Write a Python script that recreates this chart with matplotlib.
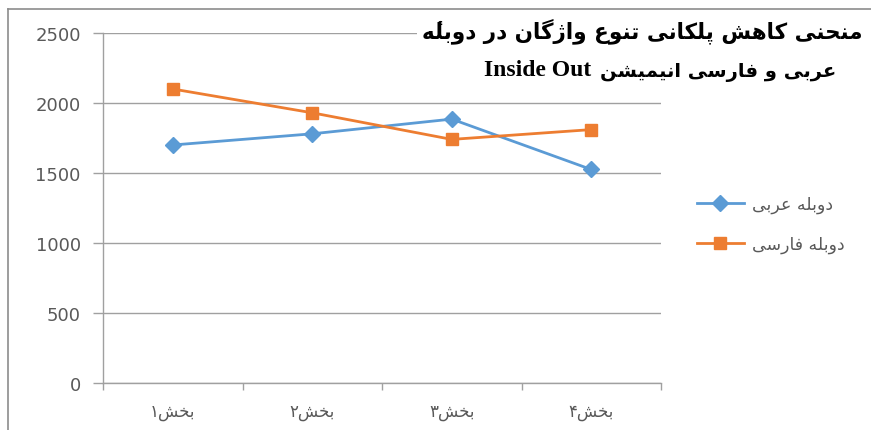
import matplotlib
matplotlib.use("Agg")
import matplotlib.pyplot as plt
from matplotlib.lines import Line2D

# ---------------- data ----------------
categories = ["بخش۱", "بخش۲", "بخش۳", "بخش۴"]
series_names = ["دوبله عربی", "دوبله فارسی"]
arabic_dub = [1700, 1780, 1885, 1525]
persian_dub = [2100, 1930, 1740, 1810]
y_ticks = [0, 500, 1000, 1500, 2000, 2500]
title_line1 = "منحنی کاهش پلکانی تنوع واژگان در دوبلهٔ"
title_line2_fa = "عربی و فارسی انیمیشن"
title_line2_en = "Inside Out"

# ---------------- minimal Arabic/Persian shaping ----------------
FORMS = {
    '\u0627': ('\uFE8D', '\uFE8E', None, None),
    '\u0628': ('\uFE8F', '\uFE90', '\uFE91', '\uFE92'),
    '\u067E': ('\uFB56', '\uFB57', '\uFB58', '\uFB59'),
    '\u062A': ('\uFE95', '\uFE96', '\uFE97', '\uFE98'),
    '\u062C': ('\uFE9D', '\uFE9E', '\uFE9F', '\uFEA0'),
    '\u062D': ('\uFEA1', '\uFEA2', '\uFEA3', '\uFEA4'),
    '\u062E': ('\uFEA5', '\uFEA6', '\uFEA7', '\uFEA8'),
    '\u062F': ('\uFEA9', '\uFEAA', None, None),
    '\u0631': ('\uFEAD', '\uFEAE', None, None),
    '\u0632': ('\uFEAF', '\uFEB0', None, None),
    '\u0698': ('\uFB8A', '\uFB8B', None, None),
    '\u0633': ('\uFEB1', '\uFEB2', '\uFEB3', '\uFEB4'),
    '\u0634': ('\uFEB5', '\uFEB6', '\uFEB7', '\uFEB8'),
    '\u0639': ('\uFEC9', '\uFECA', '\uFECB', '\uFECC'),
    '\u0641': ('\uFED1', '\uFED2', '\uFED3', '\uFED4'),
    '\u0642': ('\uFED5', '\uFED6', '\uFED7', '\uFED8'),
    '\u06A9': ('\uFB8E', '\uFB8F', '\uFB90', '\uFB91'),
    '\u06AF': ('\uFB92', '\uFB93', '\uFB94', '\uFB95'),
    '\u0644': ('\uFEDD', '\uFEDE', '\uFEDF', '\uFEE0'),
    '\u0645': ('\uFEE1', '\uFEE2', '\uFEE3', '\uFEE4'),
    '\u0646': ('\uFEE5', '\uFEE6', '\uFEE7', '\uFEE8'),
    '\u0647': ('\uFEE9', '\uFEEA', '\uFEEB', '\uFEEC'),
    '\u0648': ('\uFEED', '\uFEEE', None, None),
    '\u06CC': ('\uFBFC', '\uFBFD', '\uFBFE', '\uFBFF'),
}
MARKS = set('\u0654\u064B\u064C\u064D\u064E\u064F\u0650\u0651\u0652')


def shape(s):
    letters = [c for c in s]
    out = []
    for i, ch in enumerate(letters):
        if ch not in FORMS:
            out.append(ch)
            continue
        j = i - 1
        while j >= 0 and letters[j] in MARKS:
            j -= 1
        prev = letters[j] if j >= 0 else ''
        k = i + 1
        while k < len(letters) and letters[k] in MARKS:
            k += 1
        nxt = letters[k] if k < len(letters) else ''
        pc = prev in FORMS and FORMS[prev][2] is not None
        nc = FORMS[ch][2] is not None and nxt in FORMS
        iso, fin, ini, med = FORMS[ch]
        out.append(med if (pc and nc) else fin if pc else ini if nc else iso)
    return ''.join(out)


def rtl(s):
    word = s.rstrip('۰۱۲۳۴۵۶۷۸۹')
    digits = s[len(word):]
    groups = []
    for ch in shape(word):
        if ch in MARKS and groups:
            groups[-1] += ch
        else:
            groups.append(ch)
    return digits + ''.join(groups[::-1])


# ---------------- figure ----------------
W, H = 871, 431
fig = plt.figure(figsize=(W / 100, H / 100), dpi=100)
fig.patch.set_facecolor("white")

ax = fig.add_axes([103 / W, 1 - 384 / H, (661 - 103) / W, (384 - 34) / H])
ax.set_facecolor("white")

blue = "#5B9BD5"
orange = "#ED7D31"
gray_line = "#A0A0A0"
text_gray = "#595959"

x = list(range(1, len(categories) + 1))
ax.plot(x, arabic_dub, color=blue, lw=2.0, marker="D", ms=8.5,
        label=rtl(series_names[0]), zorder=3)
ax.plot(x, persian_dub, color=orange, lw=2.0, marker="s", ms=9,
        label=rtl(series_names[1]), zorder=3)

ax.set_xlim(0.5, len(categories) + 0.5)
ax.set_ylim(0, 2500)
ax.set_yticks(y_ticks)
ax.set_yticklabels([str(v) for v in y_ticks])
ax.set_xticks(x)
ax.set_xticklabels([rtl(c) for c in categories])
ax.set_xticks([i + 0.5 for i in range(0, len(categories) + 1)], minor=True)

ax.grid(axis="y", color=gray_line, lw=1.0, zorder=0)
ax.set_axisbelow(True)
for s in ["top", "right"]:
    ax.spines[s].set_visible(False)
for s in ["left", "bottom"]:
    ax.spines[s].set_color(gray_line)
    ax.spines[s].set_linewidth(1.0)

ax.tick_params(axis="y", length=7, width=1, color=gray_line, pad=9,
               labelsize=13, labelcolor=text_gray)
ax.tick_params(axis="x", which="major", length=0, pad=14,
               labelsize=12, labelcolor=text_gray)
ax.tick_params(axis="x", which="minor", length=5, width=1, color=gray_line)

leg = ax.legend(loc="upper left", bbox_to_anchor=(697 / W, 1 - 196 / H),
                bbox_transform=fig.transFigure, frameon=False,
                fontsize=12.5, handlelength=2.7, handletextpad=0.45,
                labelspacing=1.25, borderpad=0, borderaxespad=0,
                labelcolor=text_gray)

# title (white box covers gridline)
fig.text(862 / W, 1 - 31 / H, rtl(title_line1), ha="right", va="center",
         fontsize=15.5, fontweight="bold", color="black",
         family=["DejaVu Sans"],
         bbox=dict(facecolor="white", edgecolor="none", pad=3))
fig.text(836 / W, 1 - 72 / H, rtl(title_line2_fa), ha="right", va="center",
         fontsize=14, fontweight="bold", color="black",
         family=["DejaVu Sans"])
fig.text(591 / W, 1 - 71 / H, title_line2_en, ha="right", va="center",
         fontsize=17, fontweight="bold", color="black",
         family=["Liberation Serif"])

# outer chart border (left & top visible)
fig.add_artist(Line2D([8 / W, 8 / W], [0, 1 - 10 / H],
                      transform=fig.transFigure, color="#8C8C8C", lw=1.2))
fig.add_artist(Line2D([8 / W, 1], [1 - 10 / H, 1 - 10 / H],
                      transform=fig.transFigure, color="#8C8C8C", lw=1.2))

fig.savefig("out.png", dpi=100, facecolor="white")
